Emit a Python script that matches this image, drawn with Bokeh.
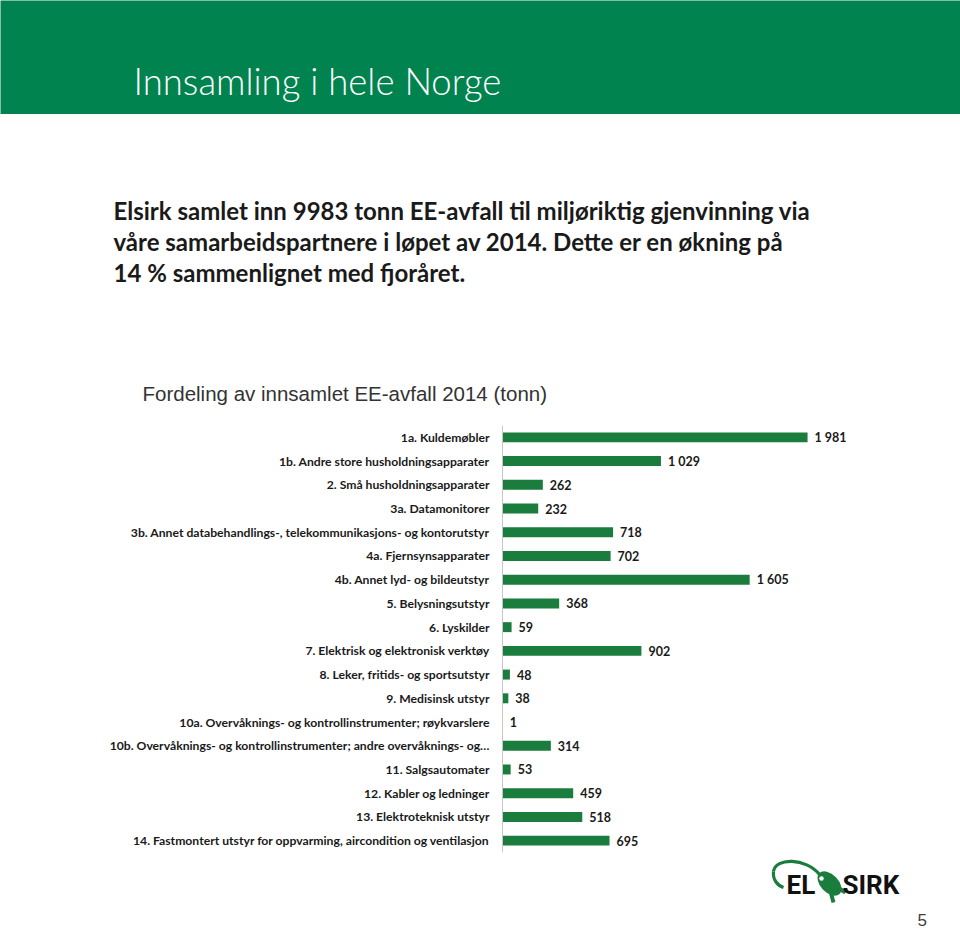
from bokeh.plotting import figure
from bokeh.models import Range1d, FactorRange, Label, ColumnDataSource, Span
from bokeh.layouts import column
from bokeh.core.properties import value
from bokeh.embed import file_html
from bokeh.resources import INLINE

# ---------------- data ----------------
categories = [
    "1a. Kuldemøbler",
    "1b. Andre store husholdningsapparater",
    "2. Små husholdningsapparater",
    "3a. Datamonitorer",
    "3b. Annet databehandlings-, telekommunikasjons- og kontorutstyr",
    "4a. Fjernsynsapparater",
    "4b. Annet lyd- og bildeutstyr",
    "5. Belysningsutstyr",
    "6. Lyskilder",
    "7. Elektrisk og elektronisk verktøy",
    "8. Leker, fritids- og sportsutstyr",
    "9. Medisinsk utstyr",
    "10a. Overvåknings- og kontrollinstrumenter; røykvarslere",
    "10b. Overvåknings- og kontrollinstrumenter; andre overvåknings- og…",
    "11. Salgsautomater",
    "12. Kabler og ledninger",
    "13. Elektroteknisk utstyr",
    "14. Fastmontert utstyr for oppvarming, aircondition og ventilasjon",
]
tonnes = [1981, 1029, 262, 232, 718, 702, 1605, 368, 59, 902, 48, 38, 1, 314, 53, 459, 518, 695]

page_title = "Innsamling i hele Norge"
paragraph_lines = [
    "Elsirk samlet inn 9983 tonn EE-avfall til miljøriktig gjenvinning via",
    "våre samarbeidspartnere i løpet av 2014.  Dette er en økning på",
    "14 % sammenlignet med fjoråret.",
]
chart_title = "Fordeling av innsamlet EE-avfall 2014 (tonn)"
page_number = "5"

GREEN_BAND = "#00834f"
BAR_GREEN = "#1b7d3d"
W = 960
AXIS_X = 502            # pixel position of the value axis within the page
PX_PER_TONNE = 0.154    # horizontal scale of the bars


def blank_fig(h, bg="white", x_range=None, y_range=None):
    f = figure(width=W, height=h,
               x_range=x_range if x_range is not None else Range1d(0, W),
               y_range=y_range if y_range is not None else Range1d(h, 0),
               output_backend="svg", toolbar_location=None, min_border=0,
               background_fill_color=bg, border_fill_color=bg)
    f.axis.visible = False
    f.grid.visible = False
    f.outline_line_color = None
    return f


# ---------------- header band ----------------
band = blank_fig(114, GREEN_BAND)
band.add_layout(Label(x=133, y=80, text=page_title, text_color="white",
                      text_font="'Lato Light', Lato", text_font_size="36.5px",
                      text_baseline="middle"))

# ---------------- paragraph & chart title ----------------
txt = blank_fig(311)
for i, line in enumerate(paragraph_lines):
    txt.add_layout(Label(x=113, y=96 + 31 * i, text=line, text_color="#1a1a1a",
                         text_font="Lato", text_font_style="bold", text_font_size="24px",
                         text_baseline="middle"))
txt.add_layout(Label(x=142, y=279, text=chart_title, text_color="#333333",
                     text_font="Liberation Sans", text_font_size="20.5px",
                     text_baseline="middle"))

# ---------------- bar chart ----------------
labels = [f"{v:,}".replace(",", " ") for v in tonnes]
src = ColumnDataSource(dict(cat=categories, val=tonnes, lbl=labels))

p = blank_fig(427,
              x_range=Range1d(-AXIS_X / PX_PER_TONNE, (W - AXIS_X) / PX_PER_TONNE),
              y_range=FactorRange(factors=categories[::-1], range_padding=0))

p.add_layout(Span(location=0, dimension="height", line_color="#c6c6c6", line_width=1))
p.hbar(y="cat", left=0, right="val", height=0.42, source=src,
       fill_color=BAR_GREEN, line_color=None)
p.text(x=0, y="cat", text="cat", source=src, x_offset=-13, text_align="right",
       text_baseline="middle", text_font=value("Lato"), text_font_style="bold",
       text_font_size="12.2px", text_color="#1a1a1a")
p.text(x="val", y="cat", text="lbl", source=src, x_offset=7, text_baseline="middle",
       text_font=value("Lato"), text_font_style="bold", text_font_size="12.5px",
       text_color="#1a1a1a")

# ---------------- footer: logo & page number ----------------
foot = blank_fig(83)
foot.bezier(x0=[819, 773], y0=[22, 19], x1=[773, 783], y1=[19, 35],
            cx0=[805, 772], cy0=[5, 27], cx1=[775, 777], cy1=[5, 33],
            line_color=BAR_GREEN, line_width=3.2)
foot.ellipse(x=[829], y=[31], width=[29], height=[18], angle=[-0.8],
             fill_color=BAR_GREEN, line_color=None)
foot.segment(x0=[830, 837], y0=[39, 35], x1=[833, 845], y1=[50, 40],
             line_color=BAR_GREEN, line_width=4)
foot.scatter(x=[821], y=[26], size=4.5, fill_color="white", line_color=None)
foot.add_layout(Label(x=786, y=32, text="EL", text_color="#111111", text_font="Roboto",
                      text_font_style="bold", text_font_size="26px", text_baseline="middle"))
foot.add_layout(Label(x=842, y=32, text="SIRK", text_color="#111111", text_font="Roboto",
                      text_font_style="bold", text_font_size="26px", text_baseline="middle"))
foot.add_layout(Label(x=917, y=67, text=page_number, text_color="#404040",
                      text_font="Liberation Sans", text_font_size="17px",
                      text_baseline="middle"))

layout = column(band, txt, p, foot, spacing=0)
open("out.html", "w").write(file_html(layout, INLINE))
